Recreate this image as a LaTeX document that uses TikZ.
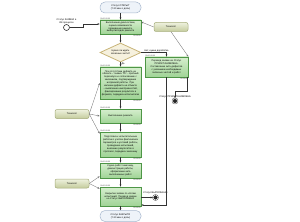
\documentclass[tikz,border=0pt]{standalone}
\usepackage{fontspec}
\setmainfont{Liberation Sans}
\usetikzlibrary{arrows.meta,shapes.geometric}
\definecolor{actB}{RGB}{78,150,70}
\definecolor{actT}{RGB}{214,238,206}
\definecolor{actF}{RGB}{160,212,150}
\definecolor{termB}{RGB}{168,184,206}
\definecolor{termF}{RGB}{238,243,249}
\definecolor{gateB}{RGB}{200,180,120}
\definecolor{gateF}{RGB}{246,241,222}
\definecolor{roleB}{RGB}{165,172,122}
\definecolor{roleT}{RGB}{238,241,222}
\definecolor{roleF}{RGB}{196,204,156}

\begin{document}
\begin{tikzpicture}[x=1pt,y=-1pt,>={Stealth[length=2.2pt,width=1.8pt]},
  every node/.style={font=\fontsize{2.4}{2.9}\selectfont,inner sep=0.6pt},
  act/.style={draw=actB,top color=actT,bottom color=actF,line width=0.7pt,minimum width=41pt,text width=38pt,align=center},
  term/.style={draw=termB,fill=termF,line width=0.5pt,rounded corners=5pt,minimum width=41pt,minimum height=11pt,align=center},
  role/.style={draw=roleB,top color=roleT,bottom color=roleF,line width=0.5pt,rounded corners=2pt,minimum width=34pt,minimum height=9pt},
  tm/.style={font=\fontsize{1.9}{2.2}\selectfont,text=black!75,inner sep=0.4pt},
  conn/.style={->,draw=black!55,line width=0.35pt},
  flow/.style={->,draw=black!80,line width=0.4pt}]
\useasboundingbox (0,0) rectangle (300,222);
% main column
\node[term] (top) at (120.5,7.5) {Статус ОТКРЫТ\\(7-30 мин с даты)};
\node[act,minimum height=14pt] (A) at (120.5,27) {Выполнение диагностики, оценка возможности проведения ремонта, выбор методов ремонта};
\node[diamond,draw=gateB,fill=gateF,line width=0.8pt,minimum width=41pt,minimum height=19pt,aspect=2.2,align=center,inner sep=0pt] (Q) at (120.5,52.5) {Нужно ли ждать\\запасные части?};
\node[act,minimum height=32pt] (B) at (120.5,83) {При отсутствии дефекта на объекте – заявка ТО – пробный перезапуск и согласование с заказчиком, подтверждение исправной работы. При наличии дефекта на объекте – выявление неисправностей, фиксирование результата в формате, передача исполнителю};
\node[act,minimum height=14pt] (D) at (120.5,116) {Выполнение ремонта};
\node[act,minimum height=25pt] (E) at (120.5,144.5) {Подготовка к испытательным работам с учетом фактических параметров и условий работы, проведение испытаний, внесение результатов в протокол, передача заказчику};
\node[act,minimum height=15pt] (G) at (120.5,170.5) {Сдача работ заказчику, демонстрация работы, оформление акта выполненных работ};
\node[act,minimum height=19pt] (F) at (120.5,196.5) {Закрытие заявки по итогам испытаний. Перевод заявки на Статус ВЫПОЛНЕНО};
\node[term] (bot) at (120.5,216) {Статус ЗАКРЫТО\\(7-30 мин с даты)};
% side branch
\node[act,minimum width=43pt,text width=40pt,minimum height=20pt] (C) at (166.5,67) {Перевод заявки на Статус ПРИОСТАНОВЛЕНА. Составление акта дефектов с указанием необходимых запасных частей и работ};
% roles
\node[role] (R1) at (171,27) {Технолог};
\node[role] (R2) at (72,114) {Технолог};
\node[role] (R3) at (72,183.5) {Технолог};
% events
\node[circle,draw=black!80,fill=white,line width=0.6pt,minimum size=6pt,inner sep=0pt,label={[align=center,inner sep=0.3pt]above:Статус ЗАЯВКА в\\ОК-процессе}] (S) at (66.5,27.5) {};
\node[circle,draw=black!80,fill=black!85,double=white,double distance=0.5pt,minimum size=5pt,inner sep=0pt,label={[inner sep=0.3pt]above:Статус ПРИОСТАНОВЛЕНА}] (E1) at (175,101) {};
\node[circle,draw=black!80,fill=black!85,double=white,double distance=0.5pt,minimum size=5pt,inner sep=0pt,label={[inner sep=0.3pt]above:Статус ВЫПОЛНЕНО}] (E2) at (155.5,197.5) {};
% times
\foreach \n in {A,B,D,E,G,F,C}{
  \node[tm,anchor=south west] at (\n.north west) {00:00:00:00};
  \node[tm,anchor=north east] at (\n.south east) {00:10:00};
}
% flow
\draw[flow] (top) -- (A);
\draw[flow] (A) -- (Q);
\draw[flow] (Q) -- (B) node[pos=0.45,right,inner sep=0.8pt]{Да};
\draw[flow] (B) -- (D);
\draw[flow] (D) -- (E);
\draw[flow] (E) -- (G);
\draw[flow] (G) -- (F);
\draw[flow] (F) -- (bot);
\draw[flow] (Q.east) -| (C.north) node[pos=0.3,above,inner sep=0.8pt]{Нет, нужна доработка};
\draw[flow] (S.east) -- ++(13.5,0) |- ([yshift=3pt]A.west);
\draw[flow] ([xshift=-1.5pt]C.south east) -- ++(0,14) -| (E1.north);
\coordinate (cf) at (166.5,205);
\draw[flow] (C.south) -- (cf) -- (cf -| F.east);
\draw[flow] (F.east |- E2) -- (E2.west);
% roles to activities
\draw[conn] (R1.west) -- ([yshift=5pt]A.east);
\draw[conn] (R1.south) -- (C.north east);
\draw[conn] (R2.east) -- (B.west);
\draw[conn] (R2.east) -- (D.west);
\draw[conn] (R2.east) -- ([yshift=-2pt]E.north west);
\draw[conn] (R3.east) -- ([yshift=2pt]G.south west);
\draw[conn] (R3.east) -- ([yshift=-2pt]F.north west);
\end{tikzpicture}
\end{document}
